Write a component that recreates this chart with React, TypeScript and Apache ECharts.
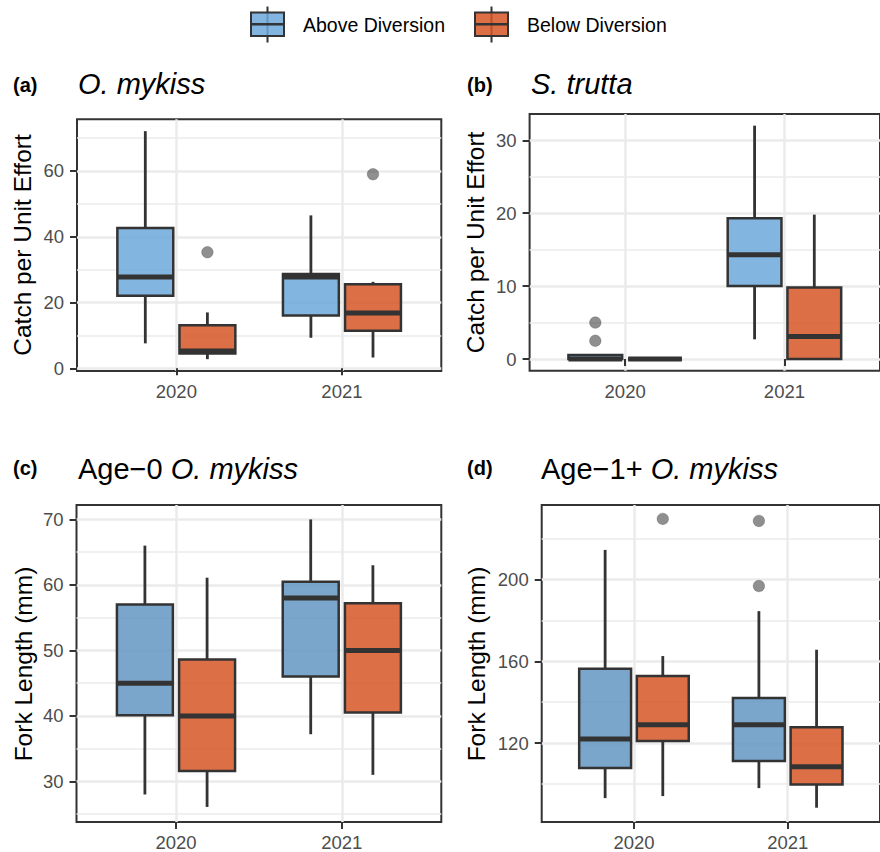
import React, { useEffect, useRef } from 'react';
import * as echarts from 'echarts';

const FONT = '"Liberation Sans", Arial, Helvetica, sans-serif';

const years = ['2020', '2021'];
const groups = ['Above Diversion', 'Below Diversion'];
const xTicks = [1, 2];

// Box statistics per year: [lower whisker, Q1, median, Q3, upper whisker]
const cpueMykissAbove = [[7.6, 22.1, 27.8, 42.7, 72.1], [9.3, 16.1, 27.8, 28.7, 46.5]];
const cpueMykissBelow = [[2.8, 4.5, 5.3, 13.1, 17.0], [3.3, 11.4, 16.8, 25.6, 26.3]];
const cpueMykissOutAbove: number[][] = [];
const cpueMykissOutBelow = [[0, 35.3], [1, 59.0]]; // [year index, value]

const cpueTruttaAbove = [[0, 0, 0, 0.55, 0.55], [2.7, 10.0, 14.3, 19.3, 32.0]];
const cpueTruttaBelow = [[0, 0, 0, 0, 0], [0, 0, 3.1, 9.8, 19.8]];
const cpueTruttaOutAbove = [[0, 5.0], [0, 2.5]];
const cpueTruttaOutBelow: number[][] = [];

const flAge0Above = [[28.0, 40.1, 45.0, 57.0, 66.0], [37.2, 46.0, 58.0, 60.5, 70.0]];
const flAge0Below = [[26.1, 31.6, 40.0, 48.6, 61.1], [31.0, 40.5, 50.0, 57.2, 63.0]];
const flAge0OutAbove: number[][] = [];
const flAge0OutBelow: number[][] = [];

const flAge1Above = [[93.0, 107.8, 122.0, 156.4, 214.6], [97.9, 111.2, 128.9, 142.0, 184.6]];
const flAge1Below = [[94.0, 121.0, 128.9, 152.8, 162.6], [88.3, 99.7, 108.4, 127.7, 165.7]];
const flAge1OutAbove = [[1, 228.8], [1, 196.9]];
const flAge1OutBelow = [[0, 229.8]];

// Axis limits and ticks
const limitsA = [-0.8, 75.7];
const majorA = [0, 20, 40, 60];
const minorA = [10, 30, 50, 70];
const limitsB = [-1.6, 33.6];
const majorB = [0, 10, 20, 30];
const minorB = [5, 15, 25];
const limitsC = [23.8, 72.2];
const majorC = [30, 40, 50, 60, 70];
const minorC = [25, 35, 45, 55, 65];
const limitsD = [81.3, 236.6];
const majorD = [120, 160, 200];
const minorD = [100, 140, 180, 220];

const BLUE_TOP = 'rgba(108,168,217,0.85)';
const BLUE_BOT = 'rgba(100,151,195,0.85)';
const ORANGE = 'rgba(215,86,39,0.85)';
const DARK = '#333333';

const DODGE = 0.1875;
const HALF = 0.16875;

interface Panel {
  grid: { left: number; top: number; width: number; height: number };
  limits: number[];
  major: number[];
  minor: number[];
  above: number[][];
  below: number[][];
  outAbove: number[][];
  outBelow: number[][];
  fillA: string;
  fillB: string;
}

const panels: Panel[] = [
  { grid: { left: 77, top: 119.3, width: 364.3, height: 251.7 }, limits: limitsA, major: majorA, minor: minorA,
    above: cpueMykissAbove, below: cpueMykissBelow, outAbove: cpueMykissOutAbove, outBelow: cpueMykissOutBelow, fillA: BLUE_TOP, fillB: ORANGE },
  { grid: { left: 529.6, top: 114, width: 364.4, height: 256.7 }, limits: limitsB, major: majorB, minor: minorB,
    above: cpueTruttaAbove, below: cpueTruttaBelow, outAbove: cpueTruttaOutAbove, outBelow: cpueTruttaOutBelow, fillA: BLUE_TOP, fillB: ORANGE },
  { grid: { left: 76.5, top: 505, width: 364.8, height: 318.3 }, limits: limitsC, major: majorC, minor: minorC,
    above: flAge0Above, below: flAge0Below, outAbove: flAge0OutAbove, outBelow: flAge0OutBelow, fillA: BLUE_BOT, fillB: ORANGE },
  { grid: { left: 541.7, top: 505, width: 352, height: 318.3 }, limits: limitsD, major: majorD, minor: minorD,
    above: flAge1Above, below: flAge1Below, outAbove: flAge1OutAbove, outBelow: flAge1OutBelow, fillA: BLUE_BOT, fillB: ORANGE },
];

function makeRender(fill: string) {
  return (_params: any, api: any) => {
    const x = api.value(0);
    const lo = api.value(1), q1 = api.value(2), med = api.value(3), q3 = api.value(4), hi = api.value(5);
    const pLo = api.coord([x, lo]);
    const pQ1 = api.coord([x, q1]);
    const pMed = api.coord([x, med]);
    const pQ3 = api.coord([x, q3]);
    const pHi = api.coord([x, hi]);
    const xl = api.coord([x - HALF, q1])[0];
    const xr = api.coord([x + HALF, q1])[0];
    return {
      type: 'group',
      children: [
        { type: 'line', shape: { x1: pLo[0], y1: pLo[1], x2: pQ1[0], y2: pQ1[1] }, style: { stroke: DARK, lineWidth: 2.8 } },
        { type: 'line', shape: { x1: pQ3[0], y1: pQ3[1], x2: pHi[0], y2: pHi[1] }, style: { stroke: DARK, lineWidth: 2.8 } },
        { type: 'rect', shape: { x: xl, y: pQ3[1], width: xr - xl, height: pQ1[1] - pQ3[1] }, style: { fill, stroke: DARK, lineWidth: 2.5 } },
        { type: 'line', shape: { x1: xl, y1: pMed[1], x2: xr, y2: pMed[1] }, style: { stroke: DARK, lineWidth: 5 } },
      ],
    };
  };
}

function buildOption() {
  const grid = panels.map((p) => ({
    ...p.grid,
    show: true,
    borderColor: DARK,
    borderWidth: 2,
    backgroundColor: 'transparent',
  }));
  const xAxis = panels.map((_p, i) => ({
    type: 'value',
    gridIndex: i,
    min: 0.4,
    max: 2.6,
    axisLine: { show: false },
    axisTick: { show: true, customValues: xTicks, length: 7, lineStyle: { color: DARK, width: 2 } },
    axisLabel: {
      customValues: xTicks,
      formatter: (v: number) => years[Math.round(v) - 1] ?? '',
      fontSize: 18.5,
      fontFamily: FONT,
      color: '#4d4d4d',
      margin: 11,
    },
    splitLine: { show: true, lineStyle: { color: '#ebebeb', width: 2.5 } },
  }));
  const yAxis: any[] = [];
  panels.forEach((p, i) => {
    yAxis.push({
      type: 'value',
      gridIndex: i,
      min: p.limits[0],
      max: p.limits[1],
      axisLine: { show: false },
      axisTick: { show: true, customValues: p.major, length: 7, lineStyle: { color: DARK, width: 2 } },
      axisLabel: { customValues: p.major, fontSize: 18.5, fontFamily: FONT, color: '#4d4d4d', margin: 13 },
      splitLine: { show: true, lineStyle: { color: '#ebebeb', width: 2.5 } },
    });
    yAxis.push({
      type: 'value',
      gridIndex: i,
      min: p.limits[0],
      max: p.limits[1],
      position: 'left',
      axisLine: { show: false },
      axisTick: { show: false, customValues: p.minor },
      axisLabel: { show: false, customValues: p.minor },
      splitLine: { show: true, lineStyle: { color: '#ebebeb', width: 1.5 } },
    });
  });

  const series: any[] = [];
  panels.forEach((p, i) => {
    const sets = [
      { name: groups[0], stats: p.above, out: p.outAbove, off: -DODGE, fill: p.fillA },
      { name: groups[1], stats: p.below, out: p.outBelow, off: DODGE, fill: p.fillB },
    ];
    sets.forEach((s) => {
      series.push({
        type: 'custom',
        name: s.name,
        xAxisIndex: i,
        yAxisIndex: 2 * i,
        z: 2,
        clip: false,
        encode: { x: 0, y: [1, 2, 3, 4, 5] },
        data: s.stats.map((st, k) => [k + 1 + s.off, ...st]),
        renderItem: makeRender(s.fill),
      });
      if (s.out.length) {
        series.push({
          type: 'scatter',
          name: s.name + ' outliers',
          xAxisIndex: i,
          yAxisIndex: 2 * i,
          z: 3,
          symbol: 'circle',
          symbolSize: 11.5,
          itemStyle: { color: 'rgba(55,55,55,0.7)', borderColor: 'rgba(55,55,55,0.35)', borderWidth: 1 },
          data: s.out.map(([k, v]) => [k + 1 + s.off, v]),
        });
      }
    });
  });

  const tag = (t: string, x: number, y: number) => ({
    type: 'text', x, y,
    style: { text: t, fontFamily: FONT, fontWeight: 'bold', fontSize: 20, fill: '#000', verticalAlign: 'middle' },
  });
  const title = (rich: string, x: number, y: number) => ({
    type: 'text', x, y,
    style: {
      text: rich, fontFamily: FONT, fontSize: 29, fill: '#000', verticalAlign: 'middle',
      rich: {
        n: { fontFamily: FONT, fontSize: 29, fontStyle: 'normal', fill: '#000' },
        i: { fontFamily: FONT, fontSize: 29, fontStyle: 'italic', fill: '#000' },
      },
    },
  });
  const ytitle = (t: string, x: number, y: number) => ({
    type: 'text', x, y, rotation: Math.PI / 2,
    style: { text: t, fontFamily: FONT, fontSize: 24.5, fill: '#000', align: 'center', verticalAlign: 'middle' },
  });
  const key = (x: number, fill: string) => [
    { type: 'line', shape: { x1: x + 16.5, y1: 6.5, x2: x + 16.5, y2: 42.5 }, style: { stroke: DARK, lineWidth: 2 } },
    { type: 'rect', shape: { x, y: 12.5, width: 33, height: 23.5 }, style: { fill, stroke: DARK, lineWidth: 2 } },
    { type: 'line', shape: { x1: x, y1: 24.2, x2: x + 33, y2: 24.2 }, style: { stroke: DARK, lineWidth: 2.5 } },
  ];
  const keyText = (t: string, x: number) => ({
    type: 'text', x, y: 24.5,
    style: { text: t, fontFamily: FONT, fontSize: 19.5, fill: '#000', verticalAlign: 'middle' },
  });

  const graphic = [
    ...key(251, BLUE_TOP),
    keyText(groups[0], 303),
    ...key(475, ORANGE),
    keyText(groups[1], 527),
    tag('(a)', 13, 85),
    title('{i|O. mykiss}', 78, 84),
    tag('(b)', 467, 85),
    title('{i|S. trutta}', 531, 84),
    tag('(c)', 13, 468),
    title('{n|Age\u22120 }{i|O. mykiss}', 78, 469),
    tag('(d)', 467, 468),
    title('{n|Age\u22121+ }{i|O. mykiss}', 541, 469),
    ytitle('Catch per Unit Effort', 22.5, 245),
    ytitle('Catch per Unit Effort', 475.5, 242.4),
    ytitle('Fork Length (mm)', 23, 664),
    ytitle('Fork Length (mm)', 476, 664),
  ];

  return {
    animation: false,
    backgroundColor: '#ffffff',
    textStyle: { fontFamily: FONT },
    grid,
    xAxis,
    yAxis,
    series,
    graphic,
  };
}

export default function App() {
  const ref = useRef<HTMLDivElement>(null);
  useEffect(() => {
    if (!ref.current) return;
    const chart = echarts.init(ref.current, undefined, { renderer: 'svg' });
    chart.setOption(buildOption() as any);
    return () => chart.dispose();
  }, []);
  return (
    <div
      ref={ref}
      style={{ position: 'absolute', left: 0, top: 0, width: 880, height: 852, background: '#fff' }}
    />
  );
}
